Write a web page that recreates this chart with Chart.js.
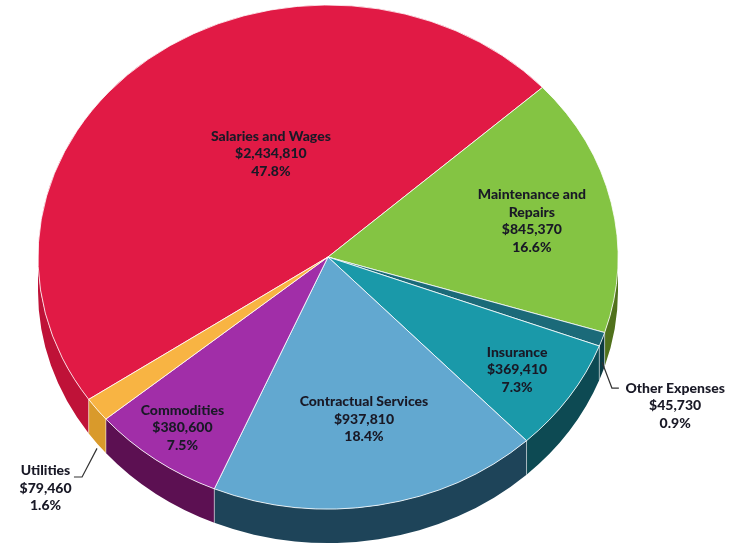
<!DOCTYPE html>
<html>
<head>
<meta charset="utf-8">
<title>Operating Expenses</title>
<script src="https://cdn.jsdelivr.net/npm/chart.js@4.4.1/dist/chart.umd.min.js"></script>
<style>
  html, body { margin: 0; padding: 0; background: #fff; }
</style>
</head>
<body>
<canvas id="expensePie" width="744" height="546"></canvas>
<script>
// expense categories, in drawing order (clockwise)
const categories = ['Salaries and Wages', 'Maintenance and Repairs', 'Other Expenses', 'Insurance', 'Contractual Services', 'Commodities', 'Utilities'];
const amounts = [2434810, 845370, 45730, 369410, 937810, 380600, 79460];
const nameLines = [['Salaries and Wages'], ['Maintenance and', 'Repairs'], ['Other Expenses'], ['Insurance'], ['Contractual Services'], ['Commodities'], ['Utilities']];

// top face + side wall colours
const topColors = ['#e11a45', '#84c443', '#1b6a79', '#1a99a9', '#62a8d0', '#a12ea8', '#f8b443'];
const sideColors = ['#bf1238', '#50711c', '#0c3b43', '#0d4a53', '#1e4459', '#5c1052', '#d99a2b'];

const total = amounts.reduce((a, b) => a + b, 0);
const money = v => '$' + v.toLocaleString('en-US');
const pct = v => (v / total * 100).toFixed(1) + '%';

// fake 3D: side walls under the pie + squashed top face
const pie3d = {
  id: 'pie3d',
  beforeDatasetsDraw(chart, args, opts) {
    const ctx = chart.ctx;
    const arcs = chart.getDatasetMeta(0).data;
    const { x, y, outerRadius: r } = arcs[0];
    const ry = r * opts.tilt;

    ctx.save();
    arcs.forEach((arc, i) => {
      for (let k = -1; k <= 2; k++) {
        const lo = Math.max(arc.startAngle, k * 2 * Math.PI);
        const hi = Math.min(arc.endAngle, k * 2 * Math.PI + Math.PI);
        if (hi <= lo) continue;
        ctx.beginPath();
        ctx.ellipse(x, y, r, ry, 0, lo, hi);
        ctx.ellipse(x, y + opts.depth, r, ry, 0, hi, lo, true);
        ctx.closePath();
        ctx.fillStyle = sideColors[i];
        ctx.fill();
      }
    });
    // light seams between the walls
    ctx.strokeStyle = 'rgba(255,255,255,0.5)';
    ctx.lineWidth = 1;
    arcs.forEach(arc => {
      const a = ((arc.startAngle % (2 * Math.PI)) + 2 * Math.PI) % (2 * Math.PI);
      if (a <= 0 || a >= Math.PI) return;
      const px = x + r * Math.cos(a), py = y + ry * Math.sin(a);
      ctx.beginPath();
      ctx.moveTo(px, py);
      ctx.lineTo(px, py + opts.depth);
      ctx.stroke();
    });
    ctx.restore();

    // squash the top face into an ellipse
    ctx.save();
    ctx.translate(x, y);
    ctx.scale(1, opts.tilt);
    ctx.translate(-x, -y);
  },
  afterDatasetsDraw(chart) {
    chart.ctx.restore();
  },
  afterDraw(chart, args, opts) {
    const ctx = chart.ctx;
    const arcs = chart.getDatasetMeta(0).data;
    const { x, y, outerRadius: r } = arcs[0];
    const ry = r * opts.tilt;

    ctx.save();
    ctx.font = '900 14px Lato';
    ctx.fillStyle = '#191926';
    ctx.textAlign = 'center';
    ctx.textBaseline = 'middle';
    arcs.forEach((arc, i) => {
      const lines = [...nameLines[i], money(amounts[i]), pct(amounts[i])];
      const [fx, fy] = opts.spots[i];
      const lx = x + fx * r;
      const top = y + fy * ry - (lines.length - 1) * opts.lineHeight / 2;
      lines.forEach((t, j) => ctx.fillText(t, lx, top + j * opts.lineHeight));
    });

    // leader lines for the small outside labels
    ctx.strokeStyle = '#333';
    ctx.lineWidth = 1.2;
    opts.leaders.forEach(ld => {
      const arc = arcs[ld.index];
      const mid = (arc.startAngle + arc.endAngle) / 2;
      ctx.beginPath();
      ctx.moveTo(x + r * Math.cos(mid), y + ry * Math.sin(mid) + ld.drop);
      ld.path.forEach(([px, py]) => ctx.lineTo(x + px * r, y + py * ry));
      ctx.stroke();
    });
    ctx.restore();
  }
};

new Chart(document.getElementById('expensePie'), {
  type: 'pie',
  data: {
    labels: categories,
    datasets: [{
      data: amounts,
      backgroundColor: topColors,
      borderColor: 'rgba(255,255,255,0.85)',
      borderWidth: 1,
      clip: false
    }]
  },
  options: {
    responsive: false,
    animation: false,
    rotation: -124.4,
    radius: 290,
    layout: { padding: { left: 0, right: 88, top: 0, bottom: 32 } },
    events: [],
    plugins: {
      legend: { display: false },
      tooltip: { enabled: false },
      pie3d: {
        tilt: 0.869,
        depth: 34,
        lineHeight: 17.5,
        spots: [[-0.197, -0.409], [0.703, -0.143], [1.197, 0.591], [0.652, 0.448], [0.124, 0.643], [-0.502, 0.677], [-0.974, 0.917]],
        leaders: [
          { index: 2, drop: 23, path: [[0.979, 0.52], [1.003, 0.52]] },
          { index: 6, drop: 39, path: [[-0.848, 0.873], [-0.876, 0.873]] }
        ]
      }
    }
  },
  plugins: [pie3d]
});
</script>
</body>
</html>
